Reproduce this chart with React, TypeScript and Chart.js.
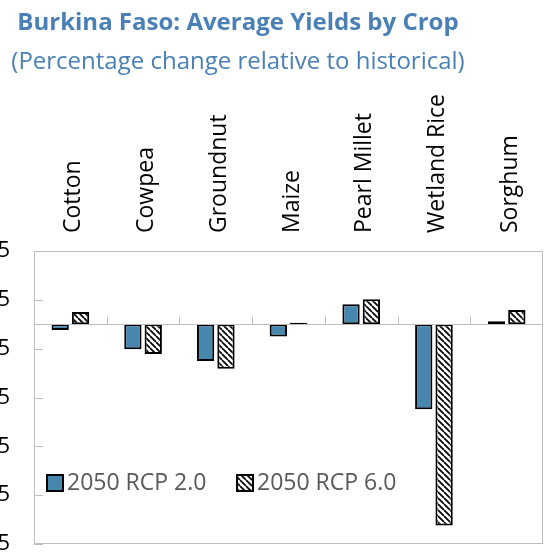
import React, { useEffect, useRef } from "react";
import { Chart, registerables } from "chart.js";

Chart.register(...registerables);

const categories = ["Cotton", "Cowpea", "Groundnut", "Maize", "Pearl Millet", "Wetland Rice", "Sorghum"];
const rcp20 = [-1.2, -5.1, -7.5, -2.5, 4.1, -17.4, 0.6];
const rcp60 = [2.5, -6.1, -9.1, 0.3, 5.1, -41.2, 2.9];
const seriesNames = ["2050 RCP 2.0", "2050 RCP 6.0"];
const yMin = -45;
const yMax = 15;
const yStep = 10;

const TITLE = "Burkina Faso: Average Yields by Crop";
const SUBTITLE = "(Percentage change relative to historical)";
const BLUE = "#4786ad";
const TITLE_BLUE = "#4a80b5";
const GRAY = "#bfbfbf";
const FONT = "'Open Sans', 'Noto Sans', sans-serif";

function makeHatch(): CanvasPattern | string {
  const c = document.createElement("canvas");
  c.width = 6;
  c.height = 6;
  const g = c.getContext("2d");
  if (!g) return "#fff";
  g.fillStyle = "#fff";
  g.fillRect(0, 0, 6, 6);
  g.strokeStyle = "#000";
  g.lineWidth = 1.7;
  for (const o of [-6, 0, 6]) {
    g.beginPath();
    g.moveTo(o, 0);
    g.lineTo(o + 6, 6);
    g.stroke();
  }
  const p = g.createPattern(c, "repeat");
  return p || "#fff";
}

export default function App() {
  const ref = useRef<HTMLCanvasElement | null>(null);

  useEffect(() => {
    if (!ref.current) return;
    const hatch = makeHatch();

    const decor = {
      id: "decor",
      beforeDatasetsDraw(chart: any) {
        const { ctx, chartArea } = chart;
        const xs = chart.scales.x;
        const ys = chart.scales.y;
        const { left, right, top, bottom } = chartArea;
        ctx.save();
        ctx.strokeStyle = GRAY;
        ctx.lineWidth = 1;
        ctx.strokeRect(Math.round(left) + 0.5, Math.round(top) + 0.5, Math.round(right - left) - 1, Math.round(bottom - top) - 1);
        for (const t of ys.ticks) {
          const y = Math.round(ys.getPixelForValue(t.value)) + 0.5;
          ctx.beginPath();
          ctx.moveTo(left, y);
          ctx.lineTo(left + 9, y);
          ctx.stroke();
        }
        ctx.fillStyle = "#000";
        ctx.font = `23px ${FONT}`;
        ctx.textAlign = "left";
        ctx.textBaseline = "alphabetic";
        categories.forEach((c, i) => {
          const x = xs.getPixelForValue(i);
          ctx.save();
          ctx.translate(x + 10, top - 18);
          ctx.rotate(-Math.PI / 2);
          ctx.fillText(c, 0, 0);
          ctx.restore();
        });
        ctx.restore();
      },
      afterDatasetsDraw(chart: any) {
        const { ctx, chartArea } = chart;
        const xs = chart.scales.x;
        const ys = chart.scales.y;
        const { left, right } = chartArea;
        ctx.save();
        ctx.strokeStyle = GRAY;
        ctx.lineWidth = 1;
        const y0 = Math.round(ys.getPixelForValue(0)) + 0.5;
        ctx.beginPath();
        ctx.moveTo(left, y0);
        ctx.lineTo(right, y0);
        ctx.stroke();
        for (let i = 1; i < categories.length; i++) {
          const x = Math.round((xs.getPixelForValue(i - 1) + xs.getPixelForValue(i)) / 2) + 0.5;
          ctx.beginPath();
          ctx.moveTo(x, y0 - 8);
          ctx.lineTo(x, y0);
          ctx.stroke();
        }
        ctx.restore();
      },
      afterDraw(chart: any) {
        const { ctx, chartArea } = chart;
        ctx.save();
        ctx.textAlign = "center";
        ctx.textBaseline = "middle";
        ctx.fillStyle = TITLE_BLUE;
        ctx.font = `bold 24px ${FONT}`;
        ctx.fillText(TITLE, 238, 23);
        ctx.font = `24px ${FONT}`;
        ctx.fillText(SUBTITLE, 238, 62);
        const ly = 483;
        const items = [
          { x: chartArea.left + 13, fill: BLUE as any, label: seriesNames[0] },
          { x: chartArea.left + 203, fill: hatch as any, label: seriesNames[1] },
        ];
        ctx.font = `23px ${FONT}`;
        ctx.textAlign = "left";
        for (const it of items) {
          ctx.fillStyle = it.fill;
          ctx.fillRect(it.x, ly - 8, 16, 16);
          ctx.strokeStyle = "#000";
          ctx.lineWidth = 2;
          ctx.strokeRect(it.x, ly - 8, 16, 16);
          ctx.fillStyle = "#595959";
          ctx.fillText(it.label, it.x + 20, ly);
        }
        ctx.restore();
      },
    };

    const chart = new Chart(ref.current, {
      type: "bar",
      data: {
        labels: categories,
        datasets: [
          {
            label: seriesNames[0],
            data: rcp20,
            backgroundColor: BLUE,
            borderColor: "#000",
            borderWidth: 2,
            borderSkipped: false,
            categoryPercentage: 0.56,
            barPercentage: 0.85,
          },
          {
            label: seriesNames[1],
            data: rcp60,
            backgroundColor: hatch as any,
            borderColor: "#000",
            borderWidth: 2,
            borderSkipped: false,
            categoryPercentage: 0.56,
            barPercentage: 0.85,
          },
        ],
      },
      options: {
        responsive: false,
        animation: false,
        devicePixelRatio: 1,
        layout: { padding: { left: 0, right: 5, top: 0, bottom: 8 } },
        plugins: {
          legend: { display: false },
          title: { display: false },
          tooltip: { enabled: false },
        },
        scales: {
          x: {
            position: "top",
            grid: { display: false, drawTicks: false },
            border: { display: false },
            ticks: { display: false },
            afterFit: (s: any) => {
              s.height = 251;
              s.paddingLeft = 0;
              s.paddingRight = 0;
            },
          },
          y: {
            min: yMin,
            max: yMax,
            grid: { display: false, drawTicks: false },
            border: { display: false },
            ticks: {
              stepSize: yStep,
              padding: 24,
              color: "#000",
              font: { family: FONT, size: 22 },
            },
            afterFit: (s: any) => {
              s.width = 34;
              s.paddingTop = 0;
              s.paddingBottom = 0;
            },
          },
        },
      },
      plugins: [decor],
    });
    return () => chart.destroy();
  }, []);

  return (
    <div style={{ position: "absolute", left: 0, top: 0, width: 548, height: 552 }}>
      <canvas ref={ref} width={548} height={552} style={{ display: "block" }} />
    </div>
  );
}
